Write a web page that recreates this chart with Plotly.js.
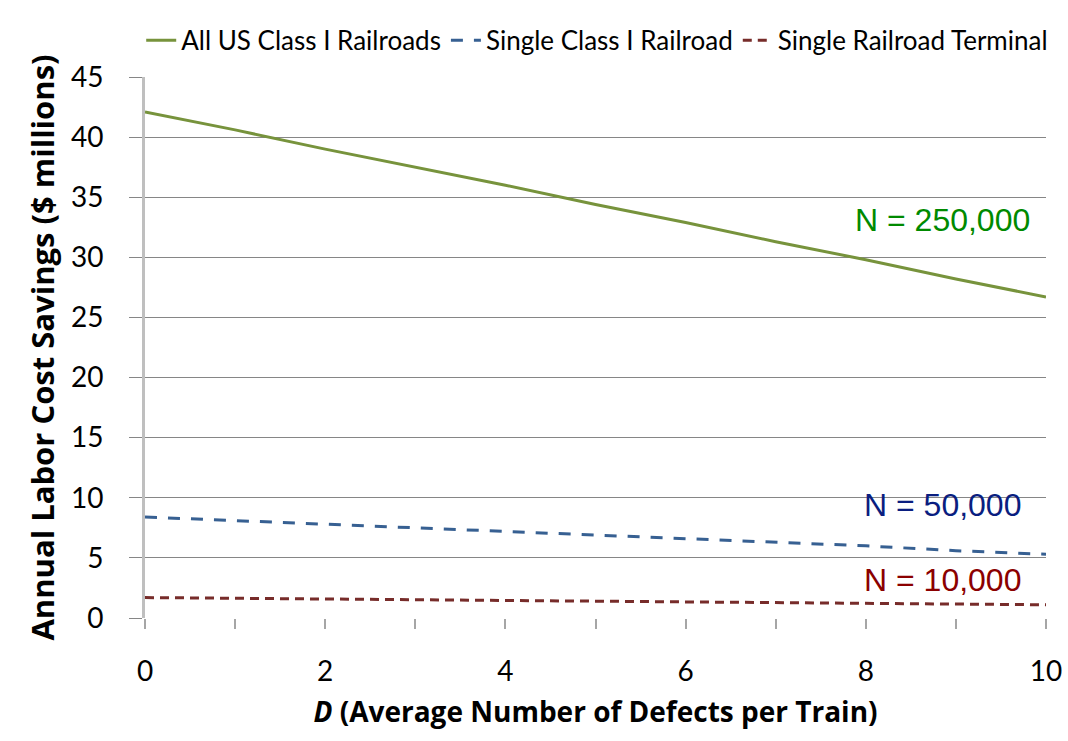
<!DOCTYPE html>
<html><head><meta charset="utf-8">
<script src="https://cdn.plot.ly/plotly-3.0.1.min.js"></script>
<style>body{margin:0;background:#fff}#c{width:1068px;height:741px}</style>
</head><body><div id="c"></div>
<script>
const D = [0,1,2,3,4,5,6,7,8,9,10];
const allUS = [42.1,40.6,39.0,37.5,36.0,34.4,32.9,31.3,29.8,28.2,26.7];
const singleRR = [8.4,8.1,7.8,7.5,7.2,6.9,6.6,6.3,6.0,5.6,5.3];
const terminal = [1.7,1.64,1.58,1.52,1.46,1.4,1.34,1.28,1.22,1.16,1.1];
const names = ["All US Class I Railroads","Single Class I Railroad","Single Railroad Terminal"];
const labels = ["N = 250,000","N = 50,000","N = 10,000"];

const cal = "Lato,'Open Sans',sans-serif";
const calB = "'Open Sans',Lato,sans-serif";
const arial = "'Liberation Sans',Arial,sans-serif";
const traces = [
 {x:D,y:allUS,name:names[0],mode:'lines',line:{color:'#77933C',width:3}},
 {x:D,y:singleRR,name:names[1],mode:'lines',line:{color:'#376092',width:3,dash:'12px,11px'}},
 {x:D,y:terminal,name:names[2],mode:'lines',line:{color:'#772C2A',width:3,dash:'9px,6px'}}
];
const layout = {
 width:1068,height:741,
 margin:{l:145,r:22,t:77,b:123},
 paper_bgcolor:'#fff',plot_bgcolor:'#fff',
 font:{family:cal,size:28,color:'#000'},
 showlegend:true,
 legend:{orientation:'h',x:1.008,xanchor:'right',y:1.111,yanchor:'top',
   font:{family:cal,size:26,color:'#000'},itemwidth:30,tracegroupgap:0,
   bgcolor:'rgba(0,0,0,0)'},
 xaxis:{range:[0,10],dtick:2,tick0:0,ticks:'outside',ticklen:10,tickwidth:2,tickcolor:'#A6A6A6',
   showgrid:false,zeroline:false,showline:false,ticklabelstandoff:18,automargin:'height',
   minor:{dtick:1,ticks:'outside',ticklen:10,tickwidth:2,tickcolor:'#A6A6A6',showgrid:false},
   tickfont:{family:cal,size:28},
   title:{text:'<i>D</i> (Average Number of Defects per Train)',font:{family:calB,size:28,weight:'bold'},standoff:16}},
 yaxis:{range:[0,45],dtick:5,ticks:'outside',ticklen:13,tickwidth:1,tickcolor:'#868686',
   showgrid:true,gridcolor:'#868686',gridwidth:1,zeroline:false,automargin:'width',
   showline:true,linecolor:'#BFBFBF',linewidth:3,ticklabelstandoff:20,
   tickfont:{family:cal,size:28},
   title:{text:'Annual Labor Cost Savings ($ millions)',font:{family:calB,size:31,weight:'bold'},standoff:8}},
 annotations:[
  {x:8.85,y:33.1,xref:'x',yref:'y',text:labels[0],showarrow:false,xanchor:'center',font:{family:arial,size:32,color:'#008A00'}},
  {x:8.85,y:9.4,xref:'x',yref:'y',text:labels[1],showarrow:false,xanchor:'center',font:{family:arial,size:32,color:'#0A1E80'}},
  {x:8.85,y:3.16,xref:'x',yref:'y',text:labels[2],showarrow:false,xanchor:'center',font:{family:arial,size:32,color:'#8B0000'}}
 ]
};
Plotly.newPlot('c',traces,layout,{displayModeBar:false});
</script></body></html>
